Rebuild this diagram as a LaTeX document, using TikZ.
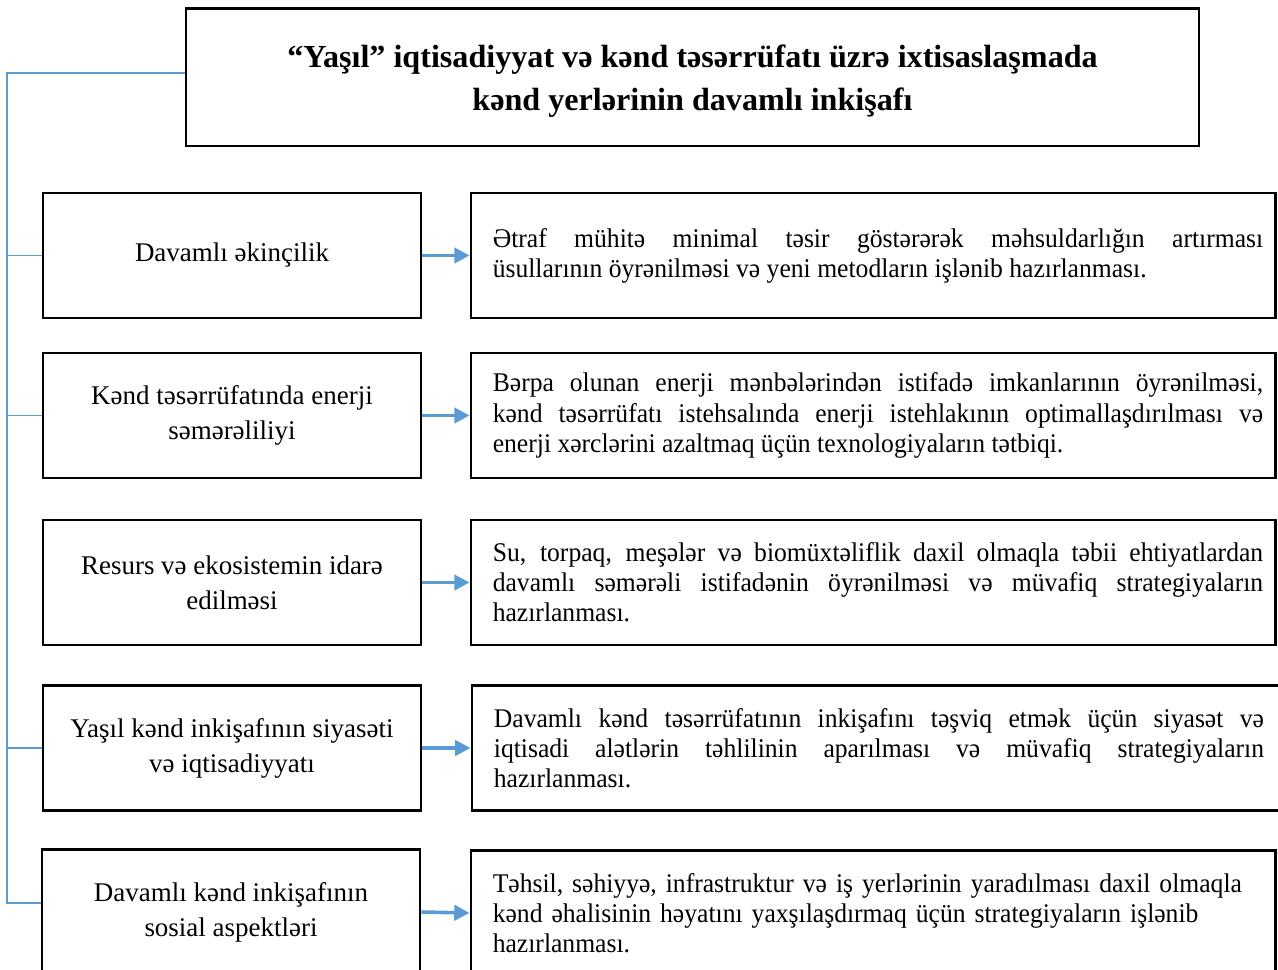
\documentclass[tikz,border=0pt]{standalone}
\usepackage{fontspec}
\setmainfont{Liberation Serif}
\newfontfamily\notefont[FakeStretch=0.95]{Liberation Serif}
\usepackage{tikz}
\usetikzlibrary{arrows.meta}
\usetikzlibrary{positioning}
\usetikzlibrary{calc}
\definecolor{LinkColor}{RGB}{91,155,213}
\tikzstyle{headbox} = [draw, line width=1.3pt, minimum width=450.8pt, minimum height=61pt, inner sep=0pt, font=\fontsize{14.3}{19.1}\selectfont\bfseries, align=center]
\tikzstyle{topicbox} = [draw, line width=1.3pt, minimum width=168.2pt, minimum height=55.6pt, inner sep=0pt, font=\fontsize{12}{15.5}\selectfont, align=center]
\tikzstyle{notebox} = [draw, line width=1.3pt, minimum width=357.8pt, minimum height=55.6pt, inner xsep=5.3pt, text width=347.2pt, font=\notefont\fontsize{12}{13.4}\selectfont, execute at begin node={\hyphenpenalty=10000\relax\tolerance=9999\relax\leftskip=4.4pt\relax}, align=justify]
\tikzstyle{link} = [LinkColor, line width=0.85pt]
\tikzstyle{arrow} = [LinkColor, line width=1.6pt, -{Triangle[length=6.8pt, width=6.8pt]}]

\begin{document}
\begin{tikzpicture}[x=0.445pt, y=-0.445pt]
                \useasboundingbox (0,0) rectangle (1278,969);
                
                % title
                \node[headbox] (title) at (692.5,77.5) {\rule{0pt}{13.6pt}“Yaşıl” iqtisadiyyat və kənd təsərrüfatı üzrə ixtisaslaşmada\\ kənd yerlərinin davamlı inkişafı};
                
                % left column
                \node[topicbox] (t1) at (232,255.5) {Davamlı əkinçilik};
                \node[topicbox] (t2) at (232,415.5) {Kənd təsərrüfatında enerji\\ səmərəliliyi};
                \node[topicbox] (t3) at (232,582.5) {Resurs və ekosistemin idarə\\ edilməsi};
                \node[topicbox] (t4) at (232,748) {Yaşıl kənd inkişafının siyasəti\\ və iqtisadiyyatı};
                \node[topicbox] (t5) at (231,912) {Davamlı kənd inkişafının\\ sosial aspektləri};
                
                % right column
                \node[notebox] (n1) at (873,255.5) {Ətraf mühitə minimal təsir göstərərək məhsuldarlığın artırması\linebreak üsullarının öyrənilməsi və yeni metodların işlənib hazırlanması.};
                \node[notebox] (n2) at (873,415.5) {Bərpa olunan enerji mənbələrindən istifadə imkanlarının öyrənilməsi,\linebreak kənd təsərrüfatı istehsalında enerji istehlakının optimallaşdırılması və\linebreak enerji xərclərini azaltmaq üçün texnologiyaların tətbiqi.};
                \node[notebox] (n3) at (873,582.5) {Su, torpaq, meşələr və biomüxtəliflik daxil olmaqla təbii ehtiyatlardan\linebreak davamlı səmərəli istifadənin öyrənilməsi və müvafiq strategiyaların\linebreak hazırlanması.};
                % this one runs past the right edge
                \node[notebox, minimum width=368.5pt, text width=357.8pt, execute at begin node={\hyphenpenalty=10000\relax\tolerance=9999\relax\leftskip=4.4pt\relax\rightskip=10.7pt\relax}] (n4) at (886,748) {Davamlı kənd təsərrüfatının inkişafını təşviq etmək üçün siyasət və\linebreak iqtisadi alətlərin təhlilinin aparılması və müvafiq strategiyaların\linebreak hazırlanması.};
                \node[notebox, align=left] (n5) at (873,913) {Təhsil, səhiyyə, infrastruktur və iş yerlərinin yaradılması daxil olmaqla\\ kənd əhalisinin həyatını yaxşılaşdırmaq üçün strategiyaların işlənib\\ hazırlanması.};
                
                % blue bus on the left
                \coordinate (bustop) at (7,73);
                \coordinate (busend) at (7,903);
                \draw[link] (title.west |- bustop) -- (bustop) -- (busend) -- (busend -| t5.west);
                \foreach \i in {1,2,4}
                    \draw[link] (t\i.west) -- (t\i.west -| bustop);
                
                % arrows
                \foreach \i in {1,...,5}
                    \draw[arrow] (t\i.east) -- (n\i.west);
            \end{tikzpicture}
\end{document}
